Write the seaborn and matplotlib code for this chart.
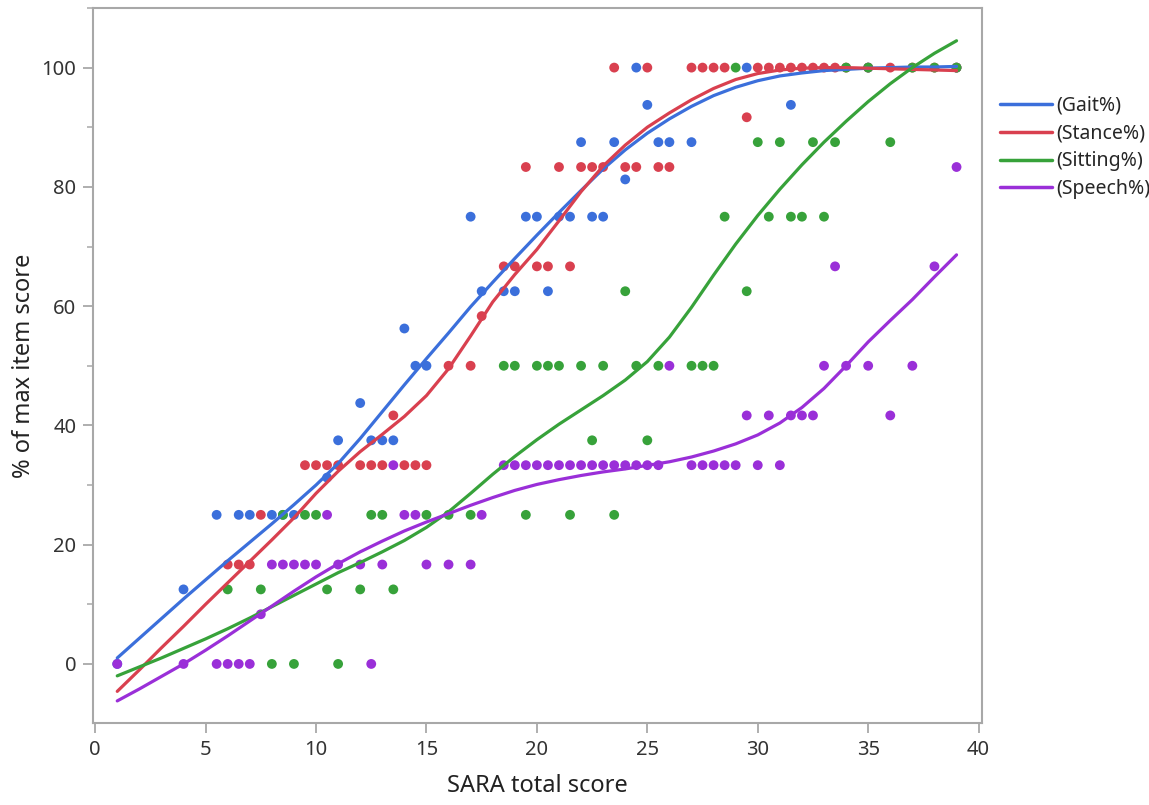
import numpy as np
import pandas as pd
import matplotlib
matplotlib.use("Agg")
import matplotlib.pyplot as plt
from matplotlib.ticker import MultipleLocator
import seaborn as sns

# ---- observed item scores (% of max) against SARA total score ----
gait_x = [1, 4, 5.5, 6.5, 7, 8, 8.5, 9, 10.5, 11, 12, 12.5, 13, 13.5, 14, 14.5, 15,
          17, 17.5, 18.5, 19, 19.5, 20, 20.5, 21, 21.5, 22, 22.5, 23, 23.5, 24, 24.5,
          25, 25.5, 26, 27, 29.5, 31.5, 35, 39]
gait_y = [0, 12.5, 25, 25, 25, 25, 25, 25, 31.25, 37.5, 43.75, 37.5, 37.5, 37.5, 56.25, 50, 50,
          75, 62.5, 62.5, 62.5, 75, 75, 62.5, 75, 75, 87.5, 75, 75, 87.5, 81.25, 100,
          93.75, 87.5, 87.5, 87.5, 100, 93.75, 100, 100]

stance_x = [6, 6.5, 7, 7.5, 9.5, 10, 10.5, 11, 12, 12.5, 13, 13.5, 14, 14.5, 15, 16, 17,
            17.5, 18.5, 19, 19.5, 20, 20.5, 21, 21.5, 22, 22.5, 23, 23.5, 24, 24.5, 25,
            25.5, 26, 27, 27.5, 28, 28.5, 29.5, 30, 30.5, 31, 31.5, 32, 32.5, 33, 33.5,
            34, 35, 36, 37, 38, 39]
stance_y = [16.67, 16.67, 16.67, 25, 33.33, 33.33, 33.33, 33.33, 33.33, 33.33, 33.33, 41.67,
            33.33, 33.33, 33.33, 50, 50,
            58.33, 66.67, 66.67, 83.33, 66.67, 66.67, 83.33, 66.67, 83.33, 83.33, 83.33, 100,
            83.33, 83.33, 100,
            83.33, 83.33, 100, 100, 100, 100, 91.67, 100, 100, 100, 100, 100, 100, 100, 100,
            100, 100, 100, 100, 100, 100]

sitting_x = [6, 7.5, 8, 8.5, 9, 9.5, 10, 10.5, 11, 12, 12.5, 13, 13.5, 15, 16, 17, 18.5,
             19, 19.5, 20, 20.5, 21, 21.5, 22, 22.5, 23, 23.5, 24, 24.5, 25, 25.5, 27,
             27.5, 28, 28.5, 29, 29.5, 30, 30.5, 31, 31.5, 32, 32.5, 33, 33.5, 34, 35,
             36, 37, 38, 39]
sitting_y = [12.5, 12.5, 0, 25, 0, 25, 25, 12.5, 0, 12.5, 25, 25, 12.5, 25, 25, 25, 50,
             50, 25, 50, 50, 50, 25, 50, 37.5, 50, 25, 62.5, 50, 37.5, 50, 50,
             50, 50, 75, 100, 62.5, 87.5, 75, 87.5, 75, 75, 87.5, 75, 87.5, 100, 100,
             87.5, 100, 100, 100]

speech_x = [1, 4, 5.5, 6, 6.5, 7, 7.5, 8, 8.5, 9, 9.5, 10, 10.5, 11, 12, 12.5, 13, 13.5,
            14, 14.5, 15, 16, 17, 17.5, 18.5, 19, 19.5, 20, 20.5, 21, 21.5, 22, 22.5, 23,
            23.5, 24, 24.5, 25, 25.5, 26, 27, 27.5, 28, 28.5, 29, 29.5, 30, 30.5, 31,
            31.5, 32, 32.5, 33, 33.5, 34, 35, 36, 37, 38, 39]
speech_y = [0, 0, 0, 0, 0, 0, 8.33, 16.67, 16.67, 16.67, 16.67, 16.67, 25, 16.67, 16.67, 0,
            16.67, 33.33,
            25, 25, 16.67, 16.67, 16.67, 25, 33.33, 33.33, 33.33, 33.33, 33.33, 33.33, 33.33,
            33.33, 33.33, 33.33,
            33.33, 33.33, 33.33, 33.33, 33.33, 50, 33.33, 33.33, 33.33, 33.33, 33.33, 41.67,
            33.33, 41.67, 33.33,
            41.67, 41.67, 41.67, 50, 66.67, 50, 50, 41.67, 50, 66.67, 83.33]

# ---- fitted smoothing curves, sampled at each SARA point ----
curve_x = list(range(1, 40))
gait_fit = [1.0, 4.3, 7.6, 10.9, 14.1, 17.3, 20.4, 23.5, 26.7, 30.0,
            33.6, 37.8, 42.3, 46.8, 51.2, 55.5, 59.9, 64.0, 68.0, 71.9,
            75.7, 79.4, 83.0, 86.2, 89.0, 91.4, 93.5, 95.3, 96.7, 97.8,
            98.6, 99.1, 99.5, 99.7, 99.9, 100.0, 100.1, 100.1, 100.2]
stance_fit = [-4.6, -1.0, 2.7, 6.3, 10.0, 13.6, 17.2, 20.8, 24.5, 28.6,
              32.3, 35.6, 38.5, 41.5, 45.0, 49.5, 55.0, 60.7, 65.3, 69.5,
              74.3, 79.2, 83.5, 87.0, 90.0, 92.4, 94.6, 96.5, 98.0, 99.0,
              99.6, 99.9, 100.0, 100.0, 99.9, 99.8, 99.7, 99.6, 99.5]
sitting_fit = [-2.0, -0.5, 1.0, 2.6, 4.2, 5.9, 7.7, 9.6, 11.5, 13.4,
               15.3, 17.0, 18.8, 20.7, 22.9, 25.5, 28.6, 31.8, 34.8, 37.6,
               40.2, 42.6, 45.0, 47.6, 50.7, 54.8, 59.8, 65.2, 70.4, 75.2,
               79.6, 83.7, 87.5, 91.0, 94.3, 97.3, 100.0, 102.4, 104.5]
speech_fit = [-6.2, -4.2, -2.1, 0.0, 2.3, 4.7, 7.2, 9.7, 12.2, 14.6,
              16.8, 18.8, 20.6, 22.3, 23.8, 25.2, 26.6, 27.9, 29.1, 30.1,
              30.9, 31.6, 32.2, 32.7, 33.3, 33.9, 34.7, 35.7, 36.9, 38.4,
              40.4, 43.0, 46.2, 50.0, 54.0, 57.6, 61.1, 64.9, 68.6]

labels = ["(Gait%)", "(Stance%)", "(Sitting%)", "(Speech%)"]
colors = ["#3b6fdb", "#d9404f", "#37a23a", "#9a2fd8"]

points = pd.concat([
    pd.DataFrame({"sara": xs, "pct": ys, "item": lab})
    for xs, ys, lab in zip([gait_x, stance_x, sitting_x, speech_x],
                           [gait_y, stance_y, sitting_y, speech_y], labels)
], ignore_index=True)
curves = pd.concat([
    pd.DataFrame({"sara": curve_x, "pct": ys, "item": lab})
    for ys, lab in zip([gait_fit, stance_fit, sitting_fit, speech_fit], labels)
], ignore_index=True)

sns.set_theme(style="white")
plt.rcParams["font.family"] = ["Noto Sans", "DejaVu Sans"]

fig = plt.figure(figsize=(11.49, 8.05), dpi=100)
ax = fig.add_axes([0.0809, 0.1019, 0.7737, 0.8882])

palette = dict(zip(labels, colors))
sns.scatterplot(data=points, x="sara", y="pct", hue="item", palette=palette,
                hue_order=labels, s=50, edgecolor="none", legend=False, ax=ax, zorder=2)
sns.lineplot(data=curves, x="sara", y="pct", hue="item", palette=palette,
             hue_order=labels, linewidth=2.3, ax=ax, zorder=3)

ax.set_xlim(-0.1, 40.15)
ax.set_ylim(-9.9, 110)
ax.xaxis.set_major_locator(MultipleLocator(5))
ax.yaxis.set_major_locator(MultipleLocator(20))
ax.yaxis.set_minor_locator(MultipleLocator(10))
ax.set_yticks(range(0, 101, 20))

for side in ["left", "bottom", "right", "top"]:
    ax.spines[side].set_color("#a8a8a8")
    ax.spines[side].set_linewidth(1.5)
ax.tick_params(axis="both", which="major", direction="out", length=7, width=1.3,
               color="#a8a8a8", labelsize=14.5, labelcolor="#333333", pad=5,
               bottom=True, left=True)
ax.tick_params(axis="y", which="minor", direction="out", length=4, width=1.1,
               color="#a8a8a8", left=True)

ax.set_xlabel("SARA total score", fontsize=17, color="#222222", labelpad=10)
ax.set_ylabel("% of max item score", fontsize=17, color="#222222", labelpad=4)

leg = ax.legend(loc="upper left", bbox_to_anchor=(0.870, 0.881),
                bbox_transform=fig.transFigure, frameon=False, fontsize=14,
                handlelength=2.7, handletextpad=0.2, labelspacing=0.4,
                borderpad=0, borderaxespad=0)
for line in leg.get_lines():
    line.set_linewidth(2.5)

fig.savefig("out.png", dpi=100)
